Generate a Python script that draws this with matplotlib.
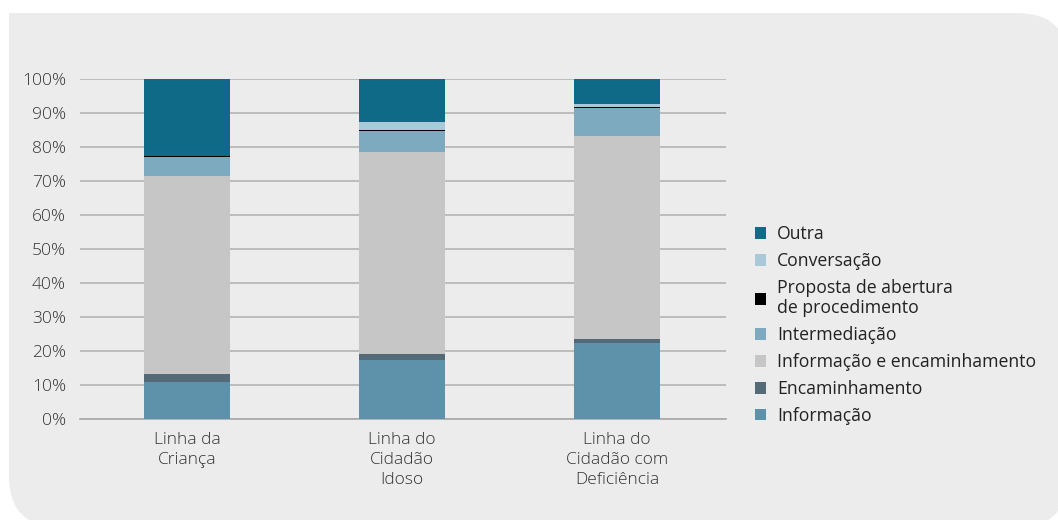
import numpy as np
import matplotlib
matplotlib.use('Agg')
import matplotlib.pyplot as plt
from matplotlib.patches import FancyBboxPatch, Rectangle, Patch

plt.rcParams['font.family'] = ['Open Sans', 'DejaVu Sans']

# data (percent), stacked bottom -> top
categories = ['Linha da\nCriança', 'Linha do\nCidadão\nIdoso', 'Linha do\nCidadão com\nDeficiência']
series_names = ['Informação', 'Encaminhamento', 'Informação e encaminhamento',
                'Intermediação', 'Proposta de abertura\nde procedimento', 'Conversação', 'Outra']
informacao = [11.0, 17.4, 22.4]
encaminhamento = [2.1, 1.6, 1.1]
info_enc = [58.4, 59.4, 59.7]
intermediacao = [5.7, 6.3, 8.4]
proposta = [0.3, 0.3, 0.3]
conversacao = [0.0, 2.4, 0.7]
outra = [22.5, 12.6, 7.4]
series = [informacao, encaminhamento, info_enc, intermediacao, proposta, conversacao, outra]
colors = ['#5e91aa', '#546a76', '#c6c6c6', '#7eaabf', '#000000', '#abc8d8', '#0e6a87']

W, H = 1058, 520
fig = plt.figure(figsize=(W / 100, H / 100), dpi=100)
fig.patch.set_facecolor('white')

# background panel (pixel coords -> figure fraction)
def px(x, y):
    return x / W, 1 - y / H

bx0, by0 = px(9, 527)
bx1, by1 = px(1068, 13)
panel = FancyBboxPatch((bx0, by0), bx1 - bx0, by1 - by0, transform=fig.transFigure,
                       boxstyle='round,pad=0,rounding_size=0.048', mutation_aspect=W / H,
                       facecolor='#ececec', edgecolor='none', zorder=-2)
fig.patches.append(panel)
cx0, cy0 = px(9, 120)
cx1, cy1 = px(120, 13)
fig.patches.append(Rectangle((cx0, cy0), cx1 - cx0, cy1 - cy0, transform=fig.transFigure,
                             facecolor='#ececec', edgecolor='none', zorder=-2))

l, b = px(80, 419)
r, t = px(726, 79)
ax = fig.add_axes([l, b, r - l, t - b])
ax.set_facecolor('none')

x = np.arange(len(categories))
bottom = np.zeros(len(categories))
handles = []
for name, vals, c in zip(series_names, series, colors):
    ax.bar(x, vals, width=0.4, bottom=bottom, color=c, zorder=3, linewidth=0)
    bottom += np.array(vals)
    handles.append(Patch(facecolor=c, edgecolor='none', label=name))

ax.set_xlim(-0.498, 2.507)
ax.set_ylim(0, 100)
ax.set_yticks(np.arange(0, 101, 10))
ax.set_yticklabels([f'{v}%' for v in range(0, 101, 10)])
ax.yaxis.grid(True, color='#b4b4b4', linewidth=1.2, zorder=0)
ax.set_axisbelow(True)
for s in ['top', 'right', 'left']:
    ax.spines[s].set_visible(False)
ax.spines['bottom'].set_color('#a8a8a8')
ax.spines['bottom'].set_linewidth(1.2)
ax.tick_params(length=0, labelsize=12.5, labelcolor='#333333', pad=10)
ax.tick_params(axis='x', pad=9)
ax.set_xticks(x)
ax.set_xticklabels(categories, linespacing=1.35)
for lab in ax.get_yticklabels() + ax.get_xticklabels():
    lab.set_fontweight('light')

leg = fig.legend(handles[::-1], series_names[::-1], loc='upper left',
                 bbox_to_anchor=px(755, 225), frameon=False, fontsize=12.7,
                 handlelength=0.65, handleheight=0.65, handletextpad=0.6,
                 labelspacing=0.5, borderaxespad=0, borderpad=0)
for txt in leg.get_texts():
    txt.set_color('#222222')
    txt.set_linespacing(1.2)

fig.savefig('out.png', dpi=100, facecolor='white')
